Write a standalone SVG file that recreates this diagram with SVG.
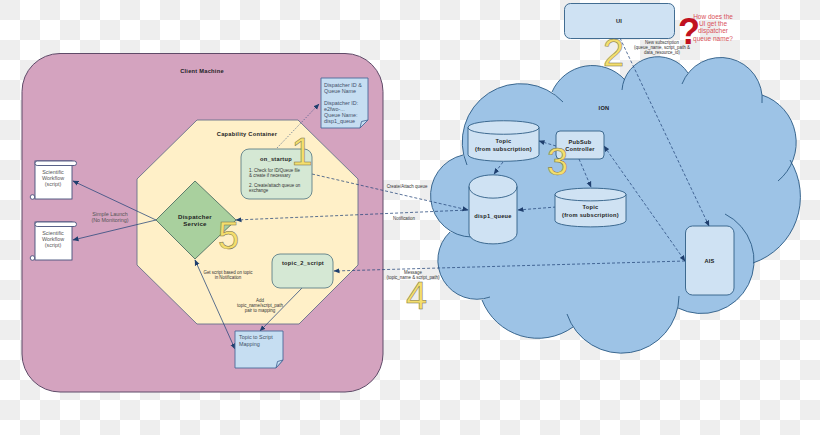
<svg xmlns="http://www.w3.org/2000/svg" width="820" height="435" viewBox="0 0 820 435">
<defs>
<pattern id="checker" width="40" height="40" patternUnits="userSpaceOnUse"><rect width="40" height="40" fill="#ffffff"/><rect width="20" height="20" fill="#eeeeee"/><rect x="20" y="20" width="20" height="20" fill="#eeeeee"/></pattern>
<marker id="a" markerWidth="7" markerHeight="6" refX="5.5" refY="3" orient="auto-start-reverse" markerUnits="userSpaceOnUse"><path d="M0 .5L6 3L0 5.5z" fill="#1f3f6e"/></marker>
</defs>
<style>
text{font-family:"Liberation Sans",Arial,sans-serif;text-anchor:middle;fill:#222}
.b{font-weight:bold;font-size:5.7px;letter-spacing:.25px}
.s{font-size:4.45px;fill:#333}
.g{font-size:5.4px;fill:#555}
.t{font-size:5.4px;fill:#3f5068;text-anchor:start}
.l{text-anchor:start}
.q{font-size:6.5px;fill:#d9505a}
.lb{fill:#cfe2f3;stroke:#2f5d86;stroke-width:.9}
.gr{fill:#d5e8d4;stroke:#5f7f88;stroke-width:.9}
.nt{fill:#c6def2;stroke:#4a6a98;stroke-width:.9}
.sc{fill:#fff;stroke:#46507a;stroke-width:.9}
.cn{fill:none;stroke:#24457a;stroke-width:.75}
.d{stroke-dasharray:3 2}
.o{stroke-dasharray:1 1.6}
.n{font-size:38px;fill:#f4de6c;stroke:#77714a;stroke-width:.5}
</style>
<rect id="background" width="820" height="435" fill="url(#checker)"/>
<g id="client-machine"><rect x="22" y="53.5" width="361" height="338.5" rx="38" fill="#d4a3bf" stroke="#5f4a68" stroke-width="1"/><text class="b" x="202" y="73">Client Machine</text></g>
<g id="capability-container"><polygon points="197,120 298,120 358,179 358,265 299,324 197,324 137,265 137,179" fill="#fff0c8" stroke="#66708a" stroke-width=".9"/><text class="b" x="247" y="135.700">Capability Container</text></g>
<g id="ion-cloud">
<path fill="#9dc3e6" d="M467 165A58.300 58.300 0 0 1 563 102L552 92A44 44 0 0 1 625 80L622 90A36 36 0 0 1 688 73L682 84A41.500 41.500 0 0 1 762 103L762 95A50 50 0 0 1 778 181L790 160A70 70 0 0 1 753 263L725 214A52.500 52.500 0 0 1 678 308L679 296A57.500 57.500 0 0 1 567 314L573 327A60 60 0 0 1 482 300L490 297A39 39 0 0 1 450 232L472 237A41.500 41.500 0 0 1 463 155Z"/>
<path fill="none" stroke="#2a5a85" stroke-width=".9" d="M467 165A58.300 58.300 0 0 1 563 102M552 92A44 44 0 0 1 625 80M622 90A36 36 0 0 1 688 73M682 84A41.500 41.500 0 0 1 762 103M762 95A50 50 0 0 1 778 181M790 160A70 70 0 0 1 753 263M725 214A52.500 52.500 0 0 1 678 308M679 296A57.500 57.500 0 0 1 567 314M573 327A60 60 0 0 1 482 300M490 297A39 39 0 0 1 450 232M472 237A41.500 41.500 0 0 1 463 155"/>
<text class="b" x="604" y="110">ION</text>
</g>
<g id="connectors">
<line class="cn o" x1="277" y1="148" x2="319" y2="104" marker-end="url(#a)"/>
<line class="cn d" x1="312" y1="174" x2="468" y2="210" marker-end="url(#a)"/>
<line class="cn d" x1="468" y1="210" x2="236" y2="220" marker-end="url(#a)"/>
<line class="cn" x1="156" y1="220" x2="73" y2="181" marker-end="url(#a)"/>
<line class="cn" x1="156" y1="220" x2="73" y2="240" marker-end="url(#a)"/>
<line class="cn" x1="195" y1="260" x2="235" y2="349" marker-start="url(#a)" marker-end="url(#a)"/>
<line class="cn" x1="302" y1="288" x2="260" y2="331" marker-end="url(#a)"/>
<line class="cn d" x1="685" y1="261" x2="334" y2="271" marker-end="url(#a)"/>
<line class="cn d" x1="604" y1="146" x2="685" y2="261" marker-start="url(#a)" marker-end="url(#a)"/>
<line class="cn d" x1="620" y1="38" x2="709" y2="226" marker-end="url(#a)"/>
<line class="cn d" x1="556" y1="146" x2="539" y2="141" marker-end="url(#a)"/>
<line class="cn d" x1="503" y1="162" x2="494" y2="174" marker-end="url(#a)"/>
<line class="cn d" x1="579" y1="159" x2="591" y2="187" marker-end="url(#a)"/>
<line class="cn d" x1="556" y1="207" x2="518" y2="210" marker-end="url(#a)"/>
<text class="s" x="407" y="187.600">Create/Attach queue</text>
<text class="s" x="404" y="219.600">Notification</text>
<text class="s" x="413" y="273.600">Message</text>
<text class="s" x="413" y="278.800">(topic_name &amp; script_path)</text>
<text class="g" x="110" y="216">Simple Launch</text>
<text class="g" x="110" y="222">(No Monitoring)</text>
<text class="s" x="228" y="273.800">Get script based on topic</text>
<text class="s" x="228" y="279">in Notification</text>
<text class="s" x="260" y="301.600">Add</text>
<text class="s" x="260" y="306.700">topic_name/script_path</text>
<text class="s" x="260" y="311.800">pair to mapping</text>
<text class="s" x="662" y="43.600">New subscription</text>
<text class="s" x="662" y="48.700">(queue_name, script_path &amp;</text>
<text class="s" x="662" y="53.800">data_resource_id)</text>
</g>
<g id="dispatcher-note"><path class="nt" d="M321 78H368V120L360 128H321Z"/><path class="nt" d="M360 128L361.500 121.500L368 120Z"/>
<text class="t" x="324" y="87">Dispatcher ID &amp;</text><text class="t" x="324" y="93">Queue Name</text><text class="t" x="324" y="105">Dispatcher ID:</text><text class="t" x="324" y="111">e2fwo-...</text><text class="t" x="324" y="117">Queue Name:</text><text class="t" x="324" y="123">disp1_queue</text></g>
<g id="on-startup"><rect class="gr" x="241" y="149" width="71" height="50" rx="8"/><text class="b" x="276" y="161">on_startup</text><text class="s l" x="249" y="171.600">1. Check for ID/Queue file</text><text class="s l" x="249" y="177.300">&amp; create if necessary</text><text class="s l" x="249" y="187">2. Create/attach queue on</text><text class="s l" x="249" y="192.300">exchange</text></g>
<g id="dispatcher-service"><polygon points="195,181 236,220 195,259 156,220" fill="#a9d09e" stroke="#4f7264" stroke-width=".9"/><text class="b" style="font-size:6.100px" x="195" y="219">Dispatcher</text><text class="b" style="font-size:6.100px" x="195" y="226.300">Service</text></g>
<g id="workflow-1"><rect class="sc" x="35" y="161" width="37" height="38"/><rect class="sc" x="35" y="161" width="41.500" height="4.500" rx="2.200"/><circle class="sc" cx="32.500" cy="197" r="2.300"/><text class="g" x="53" y="173.700">Scientific</text><text class="g" x="53" y="179.700">Workflow</text><text class="g" x="53" y="186">(script)</text></g>
<g id="workflow-2"><rect class="sc" x="35" y="222" width="37" height="38"/><rect class="sc" x="35" y="222" width="41.500" height="4.500" rx="2.200"/><circle class="sc" cx="32.500" cy="258" r="2.300"/><text class="g" x="53" y="235">Scientific</text><text class="g" x="53" y="241">Workflow</text><text class="g" x="53" y="247">(script)</text></g>
<g id="topic-2-script"><rect class="gr" x="272" y="254" width="61" height="34" rx="8"/><text class="b" x="303" y="265">topic_2_script</text></g>
<g id="topic-mapping"><path class="nt" d="M235 331H283V360L276 368H235Z"/><path class="nt" d="M276 368L277.500 361.500L283 360Z"/><text class="t" x="239" y="339.300">Topic to Script</text><text class="t" x="239" y="345.700">Mapping</text></g>
<g id="ui"><rect class="lb" x="564.500" y="3.500" width="110" height="35" rx="6"/><text class="b" x="619" y="22.700">UI</text></g>
<g id="question"><text x="689" y="44" style="font-size:36px;font-weight:bold;fill:#c1121f">?</text><text class="q" x="713" y="19.300">How does the</text><text class="q" x="713" y="26.300">UI get the</text><text class="q" x="713" y="33.300">dispatcher</text><text class="q" x="713" y="40.600">queue name?</text></g>
<g id="topic-1"><path class="lb" d="M468 127.500V154.500C468 163.500 539 163.500 539 154.500V127.500C539 118.500 468 118.500 468 127.500C468 136.500 539 136.500 539 127.500"/><text class="b" x="503.500" y="143.300">Topic</text><text class="b" x="503.500" y="150.500">(from subscription)</text></g>
<g id="pubsub-controller"><rect class="lb" x="556" y="131" width="48" height="28" rx="4"/><text class="b" x="580" y="143.500">PubSub</text><text class="b" x="580" y="151">Controller</text></g>
<g id="disp1-queue"><path class="lb" d="M469 186.500V233C469 247.500 517 247.500 517 233V186.500C517 171 469 171 469 186.500C469 202 517 202 517 186.500"/><text class="b" x="493" y="218">disp1_queue</text></g>
<g id="topic-2"><path class="lb" d="M555 194.500V220.500C555 229 626 229 626 220.500V194.500C626 186 555 186 555 194.500C555 203 626 203 626 194.500"/><text class="b" x="590.500" y="209.300">Topic</text><text class="b" x="590.500" y="216.500">(from subscription)</text></g>
<g id="ais"><rect class="lb" x="685.500" y="226" width="48.500" height="69" rx="7"/><text class="b" x="709.500" y="263">AIS</text></g>
<g id="step-numbers"><text class="n" x="302" y="165">1</text><text class="n" x="613.500" y="66">2</text><text class="n" x="557.500" y="175">3</text><text class="n" x="416.500" y="309">4</text><text class="n" x="228.500" y="249">5</text></g>
</svg>
